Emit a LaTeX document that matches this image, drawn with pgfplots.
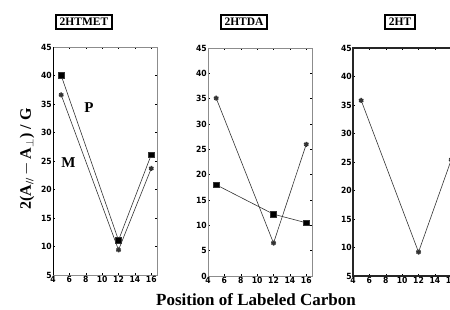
\documentclass[border=0pt]{standalone}
\usepackage{pgfplots}
\pgfplotsset{compat=1.18}
\usepackage{fontspec}
\setmainfont{Liberation Serif}
\newfontfamily\tickfont{DejaVu Sans Condensed}
\definecolor{frame}{gray}{0.55}
\pgfplotsset{
  panel/.style={
    scale only axis, width=104pt, height=228pt,
    xmin=4, xmax=16.7,
    xtick={4,6,8,10,12,14,16},
    tick align=inside, major tick length=2pt,
    tick style={black, line width=0.5pt},
    axis line style={frame, line width=0.8pt},
    /pgf/number format/assume math mode=true,
    ticklabel style={font=\tickfont\bfseries\fontsize{8.5}{9}\selectfont, inner sep=1pt},
    clip=false,
  },
  ser/.style={black!80, line width=0.6pt, mark options={solid, fill=black}},
  sq/.style={ser, mark=square*, mark size=2.8pt},
  st/.style={ser, mark=asterisk, mark size=2.5pt, mark options={line width=1.5pt}},
}
\begin{document}
\begin{tikzpicture}[x=1pt,y=1pt]
\path[use as bounding box] (0,0) rectangle (450,309);

% Panel 1
\begin{axis}[panel, at={(53pt,34pt)}, anchor=south west,
  ymin=5, ymax=45, ytick={5,10,...,45}]
  \draw[black, line width=1pt] (axis cs:4,5) -- (axis cs:4,45);
  \addplot[sq] coordinates {(5,40.0) (12,11.1) (16,26.1)};
  \addplot[st] coordinates {(5,36.6) (12,9.4) (16,23.7)};
  \node[font=\bfseries\fontsize{15}{15}\selectfont] at (axis cs:8.4,34.4) {P};
  \node[font=\bfseries\fontsize{15}{15}\selectfont] at (axis cs:5.9,24.8) {M};
\end{axis}

% Panel 2
\begin{axis}[panel, at={(208pt,33pt)}, anchor=south west,
  ymin=0, ymax=45, ytick={0,5,...,45}]
  \addplot[sq] coordinates {(5,18.0) (12,12.2) (16,10.5)};
  \addplot[st] coordinates {(5,35.1) (12,6.5) (16,26.0)};
\end{axis}

% Panel 3
\begin{axis}[panel, at={(353pt,33pt)}, anchor=south west,
  ymin=5, ymax=45, ytick={5,10,...,45},
  axis line style={black!85, line width=1.4pt}]
  \addplot[st] coordinates {(5,35.8) (12,9.2) (16,25.4)};
\end{axis}

% Titles
\tikzset{ttl/.style={draw=black, line width=2pt, fill=white, inner xsep=4pt, inner ysep=3.5pt,
  font=\bfseries\fontsize{11.5}{12}\selectfont}}
\node[ttl] at (84,287) {2HTMET};
\node[ttl] at (244,287) {2HTDA};
\node[ttl] at (400,287) {2HT};

% Axis labels
\node[rotate=90, font=\bfseries\fontsize{16}{17}\selectfont] at (27,150)
  {2(A\textsubscript{//}\,$-$\,A\textsubscript{$\perp$}) / G};
\node[font=\bfseries\fontsize{17}{18}\selectfont] at (256,9) {Position of Labeled Carbon};
\end{tikzpicture}
\end{document}
